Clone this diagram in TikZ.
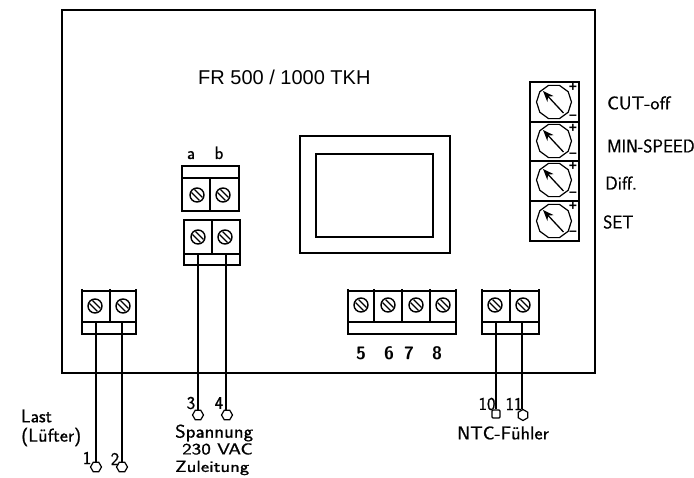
\documentclass[tikz,border=0pt]{standalone}
\usepackage{fontspec}
\setmainfont{Liberation Sans}
\newfontfamily\cadf[FakeBold=0.8]{Latin Modern Sans}
\usetikzlibrary{shapes.geometric,arrows.meta}
\tikzset{
  ln/.style={line width=1.2pt,line join=miter},
  wire/.style={line width=1.2pt},
  screwc/.style={circle,draw,line width=1.4pt,minimum size=14pt,inner sep=0pt},
  endp/.style={regular polygon,regular polygon sides=6,draw,line width=1.2pt,minimum size=11pt,inner sep=0pt},
  endsq/.style={rectangle,rounded corners=1pt,draw,line width=1.2pt,minimum size=8pt,inner sep=0pt},
  dial/.style={regular polygon,regular polygon sides=10,draw,line width=1.2pt,minimum size=35pt,inner sep=0pt},
  cad/.style={inner sep=0pt,font=\fontsize{18.5}{18.5}\selectfont\cadf},
  cads/.style={inner sep=0pt,font=\fontsize{16}{16}\selectfont\cadf},
  cadn/.style={inner sep=0pt,font=\fontsize{18}{18}\selectfont\cadf},
  cadb/.style={inner sep=0pt,font=\fontsize{18}{18}\selectfont\sffamily\bfseries},
  sign/.style={inner sep=0pt,font=\bfseries\fontsize{14}{14}\selectfont},
  title/.style={inner sep=0pt,font=\fontsize{20}{20}\selectfont},
}
\newcommand{\sx}[2]{\scalebox{#1}[1]{#2}}
\newcommand{\myscrew}[3]{%
  \node[screwc] (#1) at (#2,#3) {};
  \draw[line width=1.2pt] (#2-5.5,#3-2.5) -- (#2+2.5,#3+5.5);
  \draw[line width=1.2pt] (#2-2.5,#3-5.5) -- (#2+5.5,#3+2.5);
}
\newcommand{\mydial}[5]{% name, cx, cy, plus y, minus y
  \node[dial] (#1) at (#2,#3) {};
  \coordinate (#1a) at (#2+9.5,#3+11);
  \coordinate (#1b) at (#2-11,#3-11);
  \draw[line width=1.3pt,-{Stealth[length=11pt,width=8.5pt]}] (#1a) -- (#1b);
  \node[sign] (#1p) at (573,#4) {+};
  \node[sign] (#1m) at (573,#5) {–};
}
\begin{document}
\begin{tikzpicture}[x=1pt,y=-1pt]
\useasboundingbox (0,0) rectangle (694,478);
% main box
\draw[ln] (62,10) rectangle (595,373);
\node[title,anchor=west] (ttl) at (198,77) {FR 500 / 1000 TKH};
% display
\draw[ln] (300,136) rectangle (450,253);
\draw[ln] (316,154) rectangle (433,237);
% dials
\draw[ln] (530,82) rectangle (579,241);
\draw[ln] (530,122) -- (579,122) (530,161) -- (579,161) (530,201) -- (579,201);
\mydial{d1}{554}{102}{87}{117}
\mydial{d2}{554}{141}{128}{155}
\mydial{d3}{554}{180}{166}{194}
\mydial{d4}{554}{221}{206}{233}
\node[cad,anchor=west] (l1) at (607,103) {\sx{1.06}{CUT-off}};
\node[cad,anchor=west] (l2) at (607,146) {\sx{0.95}{MIN-SPEED}};
\node[cad,anchor=west] (l3) at (605,183) {\sx{1.0}{Diff.}};
\node[cad,anchor=west] (l4) at (603,222) {\sx{0.95}{SET}};
% upper a/b terminal
\draw[ln] (182,166) rectangle (239,211);
\draw[ln] (182,178) -- (239,178) (210,178) -- (210,211);
\myscrew{s1}{197}{195}
\myscrew{s2}{223}{195}
\node[cadn,anchor=base] (la) at (191,159) {a};
\node[cadn,anchor=base] (lb) at (219,159) {b};
% lower terminal
\draw[ln] (184,220) rectangle (240,265);
\draw[ln] (184,254) -- (240,254) (212,220) -- (212,254);
\myscrew{s3}{198}{237}
\myscrew{s4}{225}{237}
% left terminal
\draw[ln] (82,289) -- (82,334) -- (136,334) -- (136,289);
\draw[ln] (82,291) -- (136,291) (82,322) -- (136,322) (110,289) -- (110,322);
\myscrew{s5}{95}{306}
\myscrew{s6}{123}{306}
% middle terminal
\draw[ln] (348,289) -- (348,334) -- (456,334) -- (456,289);
\draw[ln] (348,291) -- (456,291) (348,322) -- (456,322);
\draw[ln] (374,289) -- (374,322) (402,289) -- (402,322) (430,289) -- (430,322);
\myscrew{s7}{361}{305}
\myscrew{s8}{388}{305}
\myscrew{s9}{416}{305}
\myscrew{s10}{443}{305}
\node[cadb] (n5) at (361,353) {5};
\node[cadb] (n6) at (389,353) {6};
\node[cadb] (n7) at (409,353) {7};
\node[cadb] (n8) at (437,353) {8};
% right terminal
\draw[ln] (482,289) -- (482,334) -- (539,334) -- (539,289);
\draw[ln] (482,291) -- (539,291) (482,322) -- (539,322) (510,289) -- (510,322);
\myscrew{s11}{495}{305}
\myscrew{s12}{523}{305}
% wire ends
\coordinate (w1) at (96,322);
\coordinate (w2) at (122,322);
\coordinate (w3) at (198,254);
\coordinate (w4) at (226,254);
\coordinate (w10) at (496,322);
\coordinate (w11) at (522,322);
\node[endp] (e1) at (96,467) {};
\node[endp] (e2) at (122,467) {};
\node[endp] (e3) at (198,415) {};
\node[endp] (e4) at (227,415) {};
\node[endsq] (e10) at (496,414) {};
\node[endp,shape border rotate=30] (e11) at (523,415) {};
\draw[wire] (w1) -- (w1|-e1.north);
\draw[wire] (w2) -- (w2|-e2.north);
\draw[wire] (w3) -- (w3|-e3.north);
\draw[wire] (w4) -- (w4|-e4.north);
\draw[wire] (w10) -- (w10|-e10.north);
\draw[wire] (w11) -- (w11|-e11.north);
\node[cadn] (n1) at (87,458) {1};
\node[cadn] (n2) at (115,459) {2};
\node[cadn] (n3) at (191,403) {3};
\node[cadn] (n4) at (219,403) {4};
\node[cadn] (n10) at (487,404) {10};
\node[cadn] (n11) at (514,404) {11};
\node[cad,anchor=west] (t1) at (21,416) {Last};
\node[cad,anchor=west] (t2) at (21,437) {\sx{1.05}{(Lüfter)}};
\node[cad,anchor=west] (t3) at (175,433) {\sx{1.09}{Spannung}};
\node[cads,anchor=west] (t4) at (182,449) {\sx{1.27}{230 VAC}};
\node[cads,anchor=west] (t5) at (175,468) {\sx{1.25}{Zuleitung}};
\node[cad,anchor=west] (t6) at (457,433) {\sx{1.06}{NTC-Fühler}};
\end{tikzpicture}
\end{document}
